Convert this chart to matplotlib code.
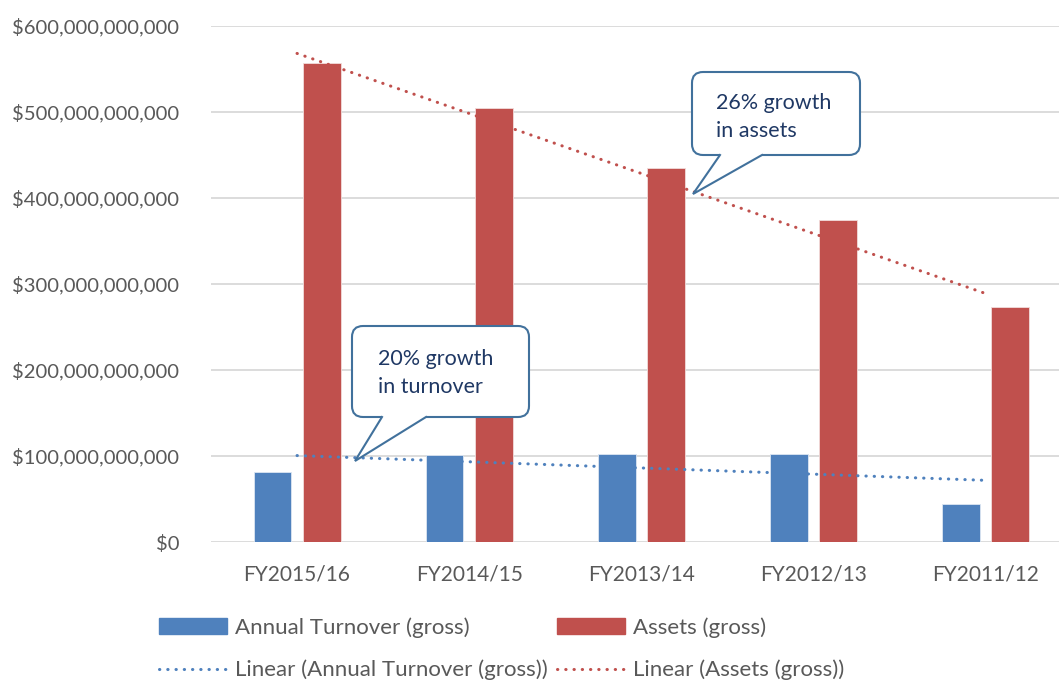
import numpy as np
import matplotlib
matplotlib.use("Agg")
import matplotlib.pyplot as plt
from matplotlib.patches import FancyBboxPatch, Polygon, Patch
from matplotlib.lines import Line2D
from matplotlib.ticker import FuncFormatter

# data (values in billions of dollars)
categories = ["FY2015/16", "FY2014/15", "FY2013/14", "FY2012/13", "FY2011/12"]
turnover = [81, 101, 102, 102, 44.5]
assets = [556.6, 504.6, 434.5, 374, 273]
y_ticks = [0, 100, 200, 300, 400, 500, 600]

BLUE = "#4F81BD"
RED = "#C0504D"
GREY = "#595959"
NAVY = "#1F3864"
EDGE = "#41719C"

plt.rcParams['font.family'] = ['Lato', 'DejaVu Sans']

W, H = 1059, 681
fig = plt.figure(figsize=(W / 100, H / 100), dpi=100)

# axes extends past the right edge, like the cropped source
left_px, right_px, top_px, bottom_px = 211, 1071.5, 26, 542
ax = fig.add_axes([left_px / W, 1 - bottom_px / H,
                   (right_px - left_px) / W, (bottom_px - top_px) / H])

x = np.arange(len(categories))
bw = 0.22
off = 0.143
ax.bar(x - off, turnover, bw, color=BLUE, edgecolor="#dce6f2", linewidth=0.6, zorder=3)
ax.bar(x + off, assets, bw, color=RED, edgecolor="#f2dcdb", linewidth=0.6, zorder=3)

# linear trendlines like Excel
dot = (0, (0.1, 2.6))
for vals, c in [(turnover, BLUE), (assets, RED)]:
    k, b = np.polyfit(x, vals, 1)
    ax.plot([x[0], x[-1]], [b + k * x[0], b + k * x[-1]], color=c, lw=2.2,
            linestyle=dot, dash_capstyle="round", zorder=4)

ax.set_xlim(-0.5, len(categories) - 0.5)
ax.set_ylim(0, 600)
ax.set_yticks(y_ticks)
ax.yaxis.set_major_formatter(FuncFormatter(lambda v, p: "${:,.0f}".format(v * 1e9)))
ax.set_xticks(x)
ax.set_xticklabels(categories)
ax.tick_params(axis="both", length=0, colors=GREY, labelsize=15)
ax.tick_params(axis="y", pad=23, labelsize=14.6)
ax.tick_params(axis="x", pad=16)
ax.grid(axis="y", color="#D9D9D9", lw=1.3, zorder=0)
for s in ax.spines.values():
    s.set_visible(False)

# legend
handles = [
    Patch(color=BLUE),
    Line2D([], [], color=BLUE, lw=2.2, linestyle=dot, dash_capstyle="round"),
    Patch(color=RED),
    Line2D([], [], color=RED, lw=2.2, linestyle=dot, dash_capstyle="round"),
]
labels = ["Annual Turnover (gross)", "Linear (Annual Turnover (gross))",
          "Assets (gross)", "Linear (Assets (gross))"]
leg = fig.legend(handles, labels, ncol=2, loc="upper left",
                 bbox_to_anchor=(159 / W, 1 - 617 / H), frameon=False,
                 fontsize=16, labelcolor=GREY, handlelength=3.05,
                 handletextpad=0.35, columnspacing=0.45, labelspacing=1.0,
                 borderaxespad=0, borderpad=0)

# callouts drawn in pixel space on an overlay
ov = fig.add_axes([0, 0, 1, 1], zorder=10)
ov.set_xlim(0, W)
ov.set_ylim(H, 0)
ov.axis("off")
ov.patch.set_visible(False)


def callout(x0, y0, x1, y1, b1, b2, tip, text, tx, ty):
    box = FancyBboxPatch((x0, y0), x1 - x0, y1 - y0,
                         boxstyle="round,pad=0,rounding_size=11",
                         facecolor="white", edgecolor=EDGE, lw=1.5)
    ov.add_patch(box)
    ov.add_patch(Polygon([(b1, y1 - 3), (b1, y1), tip, (b2, y1), (b2, y1 - 3)],
                         closed=True, facecolor="white", edgecolor="none"))
    ov.plot([b1, tip[0], b2], [y1, tip[1], y1], color=EDGE, lw=1.5,
            solid_joinstyle="miter")
    ov.text(tx, ty, text, color=NAVY, fontsize=15.5, ha="left", va="center",
            linespacing=1.55)


callout(692, 72, 860, 155, 720, 762, (693, 194), "26% growth\nin assets", 716, 117)
callout(352, 326, 529, 417, 382, 426, (355, 461), "20% growth\nin turnover", 378, 373)

fig.savefig("out.png", dpi=100)
